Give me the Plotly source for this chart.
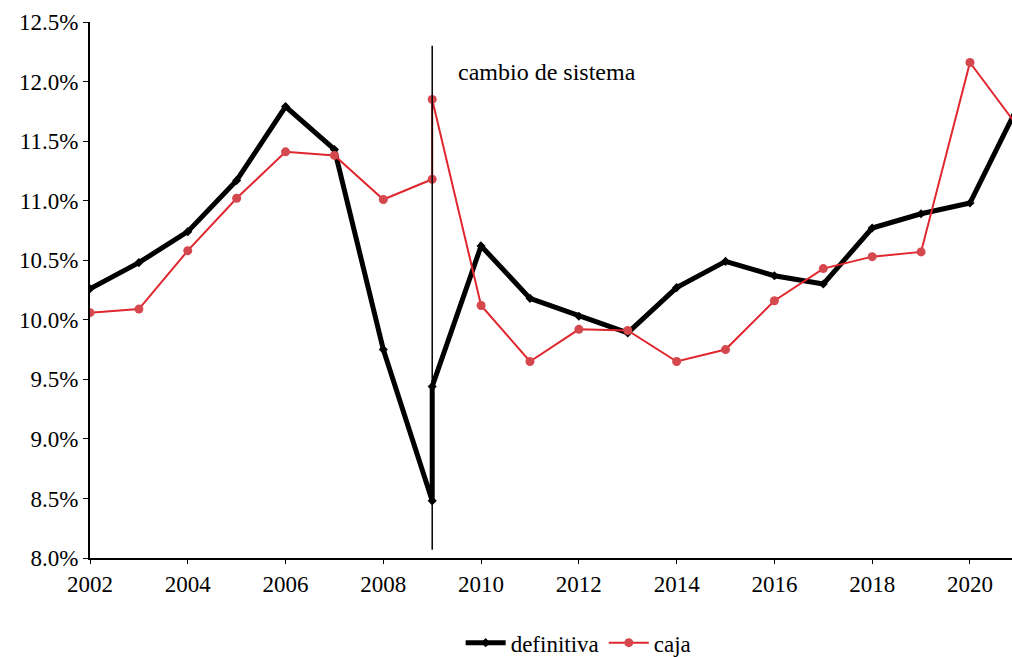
import plotly.graph_objects as go

years_def = [2002, 2003, 2004, 2005, 2006, 2007, 2008, 2009, 2009, 2010, 2011, 2012,
             2013, 2014, 2015, 2016, 2017, 2018, 2019, 2020, 2021]
definitiva = [10.26, 10.48, 10.74, 11.17, 11.79, 11.43, 9.75, 8.48, 9.44, 10.62, 10.18, 10.03,
              9.89, 10.27, 10.49, 10.37, 10.30, 10.77, 10.89, 10.98, 11.81]

years_caja = [2002, 2003, 2004, 2005, 2006, 2007, 2008, 2009, 2009, 2010, 2011, 2012,
              2013, 2014, 2015, 2016, 2017, 2018, 2019, 2020, 2021]
caja = [10.06, 10.09, 10.58, 11.02, 11.41, 11.38, 11.01, 11.18, 11.85, 10.12, 9.65, 9.92,
        9.91, 9.65, 9.75, 10.16, 10.43, 10.53, 10.57, 12.16, 11.61]

y_ticks = [8.0, 8.5, 9.0, 9.5, 10.0, 10.5, 11.0, 11.5, 12.0, 12.5]
x_ticks = [2002, 2004, 2006, 2008, 2010, 2012, 2014, 2016, 2018, 2020]
change_year = 2009
change_label = "cambio de sistema"

font_family = "Liberation Serif, Times New Roman, serif"

fig = go.Figure()
fig.add_trace(go.Scatter(
    x=years_def, y=definitiva, name="definitiva", mode="lines+markers",
    line=dict(color="black", width=5),
    marker=dict(symbol="diamond", size=7, color="black"),
    cliponaxis=True,
))
fig.add_trace(go.Scatter(
    x=years_caja, y=caja, name="caja", mode="lines+markers",
    line=dict(color="#e0262e", width=2),
    marker=dict(symbol="circle", size=9, color="#d5484d"),
    cliponaxis=True,
))

fig.add_shape(type="line", xref="x", yref="y",
              x0=change_year, x1=change_year, y0=8.07, y1=12.30,
              line=dict(color="black", width=1.5))
fig.add_annotation(x=change_year, y=12.08, xref="x", yref="y",
                   text=change_label, showarrow=False, xanchor="left", xshift=24,
                   font=dict(family=font_family, size=24, color="black"))

fig.update_layout(
    width=1012, height=657,
    margin=dict(l=90, r=0, t=22, b=99, autoexpand=False),
    plot_bgcolor="white", paper_bgcolor="white",
    font=dict(family=font_family, size=23, color="black"),
    showlegend=True,
    legend=dict(orientation="h", x=0.402, xanchor="left", y=-0.158, yanchor="middle",
                font=dict(family=font_family, size=23, color="black"),
                itemwidth=40, tracegroupgap=0),
    xaxis=dict(range=[2002, 2020.86], tickvals=x_ticks, ticktext=[str(v) for v in x_ticks],
               showgrid=False, zeroline=False, showline=True, linecolor="black", linewidth=2,
               ticks="outside", ticklen=4, tickcolor="black", tickwidth=1, automargin=False),
    yaxis=dict(range=[8.0, 12.5], tickvals=y_ticks, ticktext=[f"{v:.1f}%" for v in y_ticks],
               showgrid=False, zeroline=False, showline=True, linecolor="black", linewidth=2,
               ticks="outside", ticklen=5, tickcolor="black", tickwidth=1, automargin=False),
)

fig.write_html("out.html", config={"displayModeBar": False},
               post_script="document.body.style.margin='0';document.body.style.overflow='hidden';")
